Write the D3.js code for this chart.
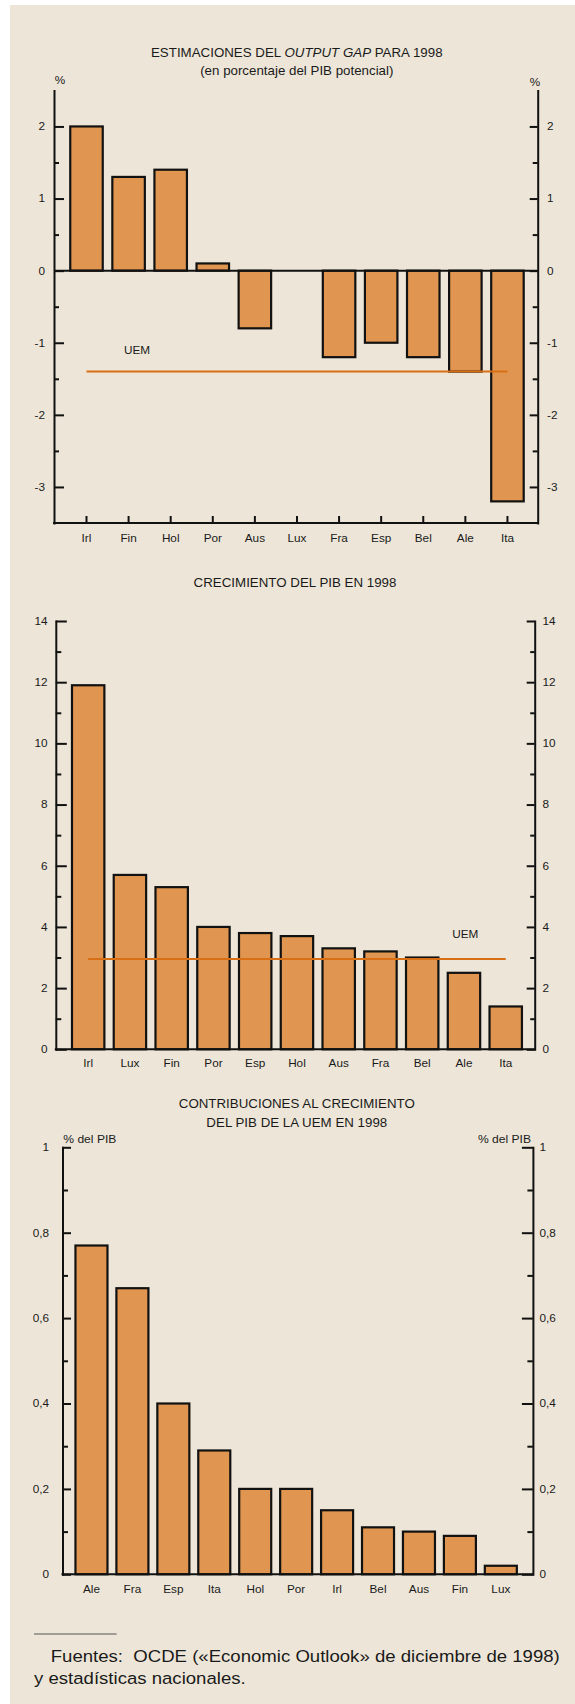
<!DOCTYPE html>
<html><head><meta charset="utf-8">
<script src="https://cdn.jsdelivr.net/npm/d3@7"></script>
<style>
html,body{margin:0;padding:0;background:#fff;}
svg{display:block;}
text{font-family:"Liberation Sans",Arial,Helvetica,sans-serif;fill:#1a1a1a;}
</style></head><body>
<svg id="c" width="575" height="1704"></svg>
<script>
// ---------- DATA ----------
const gapCats = ["Irl","Fin","Hol","Por","Aus","Lux","Fra","Esp","Bel","Ale","Ita"];
const gapValues = [2.0, 1.3, 1.4, 0.1, -0.8, 0, -1.2, -1.0, -1.2, -1.4, -3.2];
const gapUEM = -1.4;
const gapTicks = [-3, -2, -1, 0, 1, 2];
const gapMinor = [-2.5, -1.5, -0.5, 0.5, 1.5];

const growthCats = ["Irl","Lux","Fin","Por","Esp","Hol","Aus","Fra","Bel","Ale","Ita"];
const growthValues = [11.9, 5.7, 5.3, 4.0, 3.8, 3.7, 3.3, 3.2, 3.0, 2.5, 1.4];
const growthUEM = 2.95;
const growthTicks = [0, 2, 4, 6, 8, 10, 12, 14];
const growthMinor = [1, 3, 5, 7, 9, 11, 13];

const contribCats = ["Ale","Fra","Esp","Ita","Hol","Por","Irl","Bel","Aus","Fin","Lux"];
const contribValues = [0.77, 0.67, 0.40, 0.29, 0.20, 0.20, 0.15, 0.11, 0.10, 0.09, 0.02];
const contribTicks = [0, 0.2, 0.4, 0.6, 0.8, 1];
const contribMinor = [0.1, 0.3, 0.5, 0.7, 0.9];

// ---------- STYLE ----------
const SX = 1.12;
const BAR = "#e09650", INK = "#111", REF = "#d96f14", BG = "#ede6d8";
const TITLE = 11.9, TICK = 10.5;
const svg = d3.select("#c");
svg.append("rect").attr("x", 10).attr("y", 5).attr("width", 565).attr("height", 1699).attr("fill", BG);

const esLocale = d3.formatLocale({decimal: ",", thousands: ".", grouping: [3], currency: ["", " €"], minus: "-"});
const fmtComma = esLocale.format("~g");
const fmtInt = esLocale.format("d");

function txt(g, x, y, s, size, anchor) {
  return g.append("text")
    .attr("transform", `translate(${x},${y}) scale(${SX},1)`)
    .attr("font-size", size)
    .attr("text-anchor", anchor || "start")
    .style("white-space", "pre")
    .text(s);
}

function styleAxis(g, dx, size) {
  g.attr("font-family", null).attr("font-size", null);
  g.selectAll("path.domain").attr("stroke", INK).attr("stroke-width", 2).attr("stroke-linecap", "square");
  g.selectAll(".tick line").attr("stroke", INK).attr("stroke-width", 2);
  g.selectAll(".tick text")
    .attr("x", null)
    .attr("transform", `translate(${dx},0) scale(${SX},1)`)
    .attr("font-size", size)
    .attr("fill", "#1a1a1a");
}

function barChart(o) {
  const g = svg.append("g");
  const x = d3.scaleBand().domain(o.cats).range([o.x0, o.x1])
    .paddingInner(o.pad).paddingOuter(o.pad / 2);
  const y = d3.scaleLinear().domain(o.domain).range([o.yBottom, o.yTop]);

  g.append("g").selectAll("rect").data(o.values).join("rect")
    .attr("x", (d, i) => x(o.cats[i]))
    .attr("width", x.bandwidth())
    .attr("y", d => y(Math.max(0, d)))
    .attr("height", d => Math.abs(y(d) - y(0)))
    .attr("fill", BAR).attr("stroke", INK).attr("stroke-width", 2.2);

  if (o.domain[0] < 0) {
    g.append("line").attr("x1", o.axL).attr("x2", o.axR)
      .attr("y1", y(0)).attr("y2", y(0)).attr("stroke", INK).attr("stroke-width", 2);
  }

  if (o.ref != null) {
    g.append("line")
      .attr("x1", x(o.cats[0]) + x.bandwidth() / 2)
      .attr("x2", x(o.cats[o.cats.length - 1]) + x.bandwidth() / 2)
      .attr("y1", y(o.ref)).attr("y2", y(o.ref))
      .attr("stroke", REF).attr("stroke-width", 2);
    txt(g, o.refLabel[0], o.refLabel[1], "UEM", TICK, o.refLabel[2]);
  }

  const gl = g.append("g").attr("transform", `translate(${o.axL},0)`)
    .call(d3.axisLeft(y).tickValues(o.ticks).tickFormat(o.fmt).tickSize(-o.majL).tickSizeOuter(0));
  styleAxis(gl, -o.padL, TICK);
  const glm = g.append("g").attr("transform", `translate(${o.axL},0)`)
    .call(d3.axisLeft(y).tickValues(o.minor).tickFormat("").tickSize(-o.minL).tickSizeOuter(0));
  glm.select("path.domain").remove();
  styleAxis(glm, 0, 10);

  const gr = g.append("g").attr("transform", `translate(${o.axR},0)`)
    .call(d3.axisRight(y).tickValues(o.ticks).tickFormat(o.fmt).tickSize(-o.majR).tickSizeOuter(0));
  styleAxis(gr, o.padR, TICK);
  const grm = g.append("g").attr("transform", `translate(${o.axR},0)`)
    .call(d3.axisRight(y).tickValues(o.minor).tickFormat("").tickSize(-o.minR).tickSizeOuter(0));
  grm.select("path.domain").remove();
  styleAxis(grm, 0, 10);

  const yb = y(o.domain[0]);
  const gb = g.append("g").attr("transform", `translate(0,${yb})`)
    .call(d3.axisBottom(x).tickSize(-o.xTick).tickSizeOuter(0).tickPadding(o.xPad));
  gb.select("path.domain").remove();
  styleAxis(gb, 0, TICK);
  if (o.xTick === 0) gb.selectAll(".tick line").remove();
  g.append("line").attr("x1", o.axL).attr("x2", o.axR).attr("y1", yb).attr("y2", yb)
    .attr("stroke", INK).attr("stroke-width", 2).attr("stroke-linecap", "square");
  return g;
}

// ---------- CHART 1 ----------
const g1 = barChart({
  cats: gapCats, values: gapValues, x0: 65.45, x1: 528.5, pad: 0.228,
  domain: [-3.5, 2.5], yBottom: 523, yTop: 90.4,
  axL: 54, axR: 537.7, ticks: gapTicks, minor: gapMinor, fmt: d => fmtInt(d),
  majL: 10, minL: 5, majR: 8, minR: 5, padL: 9, padR: 9.3,
  xTick: 7, xPad: 11.5, ref: gapUEM, refLabel: [123.9, 354, "start"]
});
{
  const t = g1.append("text").attr("transform", `translate(296.8,57) scale(${SX},1)`)
    .attr("font-size", TITLE).attr("text-anchor", "middle").style("white-space", "pre");
  t.append("tspan").text("ESTIMACIONES DEL ");
  t.append("tspan").attr("font-style", "italic").text("OUTPUT GAP");
  t.append("tspan").text(" PARA 1998");
  txt(g1, 296.8, 75, "(en porcentaje del PIB potencial)", TITLE, "middle");
  txt(g1, 54.7, 84, "%", TICK, "start");
  txt(g1, 535, 86, "%", TICK, "middle");
}

// ---------- CHART 2 ----------
const g2 = barChart({
  cats: growthCats, values: growthValues, x0: 67.3, x1: 526.6, pad: 0.224,
  domain: [0, 14], yBottom: 1049.3, yTop: 621,
  axL: 55.8, axR: 534.7, ticks: growthTicks, minor: growthMinor, fmt: d => fmtInt(d),
  majL: 11, minL: 5.5, majR: 8, minR: 4.5, padL: 8.3, padR: 7.7,
  xTick: 0, xPad: 10.7, ref: growthUEM, refLabel: [465.2, 937.5, "middle"]
});
txt(g2, 295, 587, "CRECIMIENTO DEL PIB EN 1998", TITLE, "middle");

// ---------- CHART 3 ----------
const g3 = barChart({
  cats: contribCats, values: contribValues, x0: 71.0, x1: 521.3, pad: 0.218,
  domain: [0, 1], yBottom: 1574.3, yTop: 1147.3,
  axL: 62.5, axR: 532.9, ticks: contribTicks, minor: contribMinor, fmt: d => fmtComma(d),
  majL: 8.5, minL: 5.5, majR: 11, minR: 5.5, padL: 13.5, padR: 6.6,
  xTick: 0, xPad: 11.7, ref: null
});
txt(g3, 296.8, 1108, "CONTRIBUCIONES AL CRECIMIENTO", TITLE, "middle");
txt(g3, 296.8, 1126.5, "DEL PIB DE LA UEM EN 1998", TITLE, "middle");
txt(g3, 63.3, 1143, "% del PIB", 10.8, "start");
txt(g3, 531, 1143, "% del PIB", 10.8, "end");

// ---------- FOOTNOTE ----------
svg.append("line").attr("x1", 34).attr("x2", 116.7).attr("y1", 1634).attr("y2", 1634)
  .attr("stroke", "#555").attr("stroke-width", 1);
txt(svg, 50.7, 1662, "Fuentes:  OCDE («Economic Outlook» de diciembre de 1998)", 16.6, "start");
txt(svg, 34, 1684, "y estadísticas nacionales.", 16.6, "start");
</script>
</body></html>
